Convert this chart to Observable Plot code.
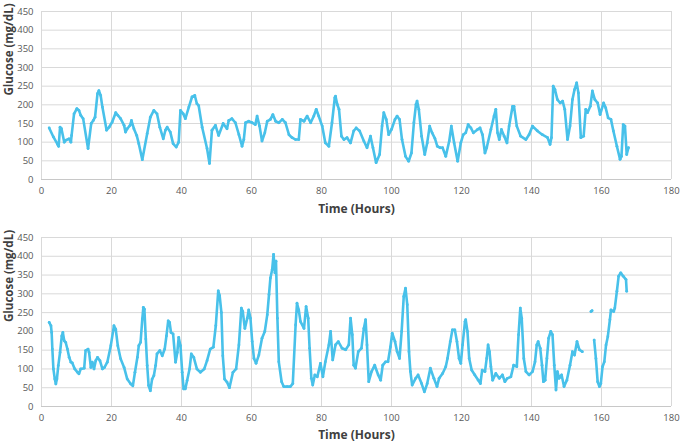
<!DOCTYPE html>
<html>
<head>
<meta charset="utf-8">
<script src="https://cdn.jsdelivr.net/npm/d3@7"></script>
<script src="https://cdn.jsdelivr.net/npm/@observablehq/plot@0.6"></script>
<style>
  html, body { margin: 0; padding: 0; background: #fff; }
  #chart { width: 680px; height: 442px; overflow: hidden; }
  #chart svg { display: block; }
</style>
</head>
<body>
<div id="chart"></div>
<script>
// Axis ticks
const xTicks = [0, 20, 40, 60, 80, 100, 120, 140, 160, 180];
const yTicks = [0, 50, 100, 150, 200, 250, 300, 350, 400, 450];

// Top panel
const topHours = [2.2,3.4,4.6,4.9,5.3,5.7,6.5,6.9,7.9,8.4,8.6,9.3,10.1,10.7,11.2,11.9,13.3,14.2,14.8,15.3,16.0,16.4,16.9,17.4,18.6,19.3,20.2,21.2,21.8,22.6,23.6,24.0,24.5,25.3,25.7,26.4,27.2,27.8,28.8,30.2,31.1,32.1,33.0,33.8,34.8,35.4,35.9,36.8,37.6,38.5,39.2,39.7,40.5,41.1,42.1,43.0,43.8,44.4,44.9,45.9,47.3,48.0,48.7,49.7,50.6,51.9,53.0,53.5,54.4,55.4,56.4,57.3,57.8,58.3,59.2,60.2,61.1,61.6,62.3,63.0,63.8,64.5,65.4,66.1,66.9,67.8,68.8,69.7,70.7,71.6,72.6,73.5,74.0,75.0,75.9,76.9,77.8,78.5,79.2,80.2,81.1,82.1,83.0,83.8,84.0,84.5,85.0,85.7,86.4,87.3,88.3,89.2,89.9,90.9,92.1,93.0,94.0,94.7,95.6,96.6,97.3,97.8,98.5,99.2,100.0,101.0,101.6,102.3,103.0,104.0,104.9,105.7,106.4,107.0,107.3,107.8,108.6,109.5,110.2,110.9,111.6,112.4,113.1,113.9,114.6,115.5,116.5,117.1,117.9,118.9,119.8,120.5,121.2,121.9,122.7,123.4,124.6,125.3,126.0,126.7,127.2,128.4,129.3,129.8,130.3,130.8,131.4,132.2,133.0,133.6,134.6,135.0,135.8,136.9,138.4,139.3,140.3,141.7,143.1,144.6,145.3,145.7,146.2,146.7,147.4,148.2,148.9,149.5,150.3,151.0,151.7,152.3,152.9,153.4,154.1,154.9,155.5,156.0,156.8,157.4,158.1,158.9,159.6,160.6,161.2,161.9,162.7,163.4,164.4,165.3,165.7,166.2,166.7,167.2,167.7];
const topGlucose = [138,114,94,89,140,136,100,105,109,100,118,176,190,185,172,163,83,150,158,167,230,238,225,194,132,140,154,179,172,163,145,127,136,145,158,136,118,96,53,123,167,185,176,140,109,132,140,127,96,87,100,185,176,163,194,221,225,203,198,140,83,43,132,145,118,150,136,158,163,152,120,89,107,152,156,152,147,170,143,103,125,156,161,174,156,152,161,152,120,112,107,107,161,156,170,152,170,188,170,143,98,89,152,219,223,201,188,116,107,112,98,130,138,130,103,85,116,85,45,67,143,179,161,120,134,161,170,161,107,62,49,71,152,201,210,188,116,67,98,143,125,110,89,85,85,62,103,143,98,49,98,120,125,147,138,125,134,138,120,71,85,134,170,188,125,107,134,116,98,143,196,196,143,116,107,120,143,130,120,112,94,112,250,241,214,205,210,188,107,143,214,241,259,232,112,116,188,179,196,237,214,205,174,205,192,165,161,130,89,54,62,147,143,67,85];

// Bottom panel (null marks a gap in the trace)
const bottomHours = [2.2,2.7,2.9,3.1,3.4,3.8,4.1,4.4,4.8,5.3,5.8,6.1,6.5,6.9,7.4,7.9,8.4,8.8,9.5,10.3,10.7,11.2,12.2,12.6,13.3,13.6,14.1,14.5,15.0,15.5,16.0,16.7,17.4,18.0,18.8,19.8,20.7,21.2,21.8,22.6,23.6,24.5,25.5,26.1,26.7,27.4,27.8,28.3,28.8,29.1,29.4,29.8,30.2,30.6,31.1,31.6,32.1,32.6,33.0,33.8,34.5,35.2,35.7,36.2,36.6,37.0,37.6,38.3,38.8,39.2,39.7,40.2,40.6,41.1,41.6,42.3,42.8,43.5,44.4,45.4,46.5,47.3,48.2,49.1,49.8,50.5,50.9,51.4,51.8,52.3,53.0,53.7,54.7,55.6,56.4,57.1,57.5,58.1,58.8,59.2,59.7,60.2,60.7,61.3,62.1,63.0,63.8,64.5,65.0,65.4,65.9,66.3,66.7,67.0,67.4,67.8,68.6,69.2,70.2,71.1,71.8,72.6,73.0,73.5,74.0,75.0,75.6,76.2,76.6,77.1,77.5,78.1,78.8,79.7,80.4,81.1,82.1,82.6,83.2,84.0,84.8,85.9,86.9,87.8,88.3,88.8,89.2,89.7,90.5,91.4,92.1,92.6,93.0,93.5,94.3,95.2,96.2,96.9,97.5,98.3,99.0,99.7,100.2,101.0,101.6,102.3,102.9,103.5,104.0,104.5,105.0,105.4,105.9,106.9,107.6,108.6,109.4,110.2,111.1,112.1,113.0,113.6,114.6,115.5,116.0,116.8,117.4,118.1,118.7,119.3,119.8,120.3,121.0,121.2,121.7,122.2,122.9,123.8,124.8,125.4,125.9,126.7,127.2,127.6,128.0,128.4,128.9,129.8,130.8,131.7,132.4,133.1,134.1,134.9,135.8,136.3,136.8,137.2,137.8,138.4,139.3,140.3,141.0,141.5,141.9,142.5,143.0,143.4,143.9,144.4,144.9,145.5,146.0,146.5,147.0,147.4,147.9,148.6,149.3,150.1,151.0,151.7,152.3,153.0,153.7,154.5,155.5,157.0,157.3,157.6,157.9,158.4,158.9,159.4,159.8,160.3,160.8,161.3,161.8,162.4,162.7,163.5,163.8,164.4,164.9,165.5,166.2,167.0,167.2];
const bottomGlucose = [224,215,197,153,100,73,60,73,109,144,188,197,175,171,153,131,118,116,100,91,87,100,102,149,153,144,104,118,100,122,131,122,100,104,118,162,215,206,162,127,104,73,60,55,91,131,162,171,233,264,259,180,109,56,42,73,82,109,140,149,135,153,188,228,224,197,193,118,144,184,162,91,47,47,69,100,140,131,100,91,100,122,153,158,215,308,295,250,135,73,65,50,91,100,164,262,253,208,235,257,235,173,128,115,137,182,200,244,298,342,364,405,356,387,235,119,66,53,53,53,61,217,275,257,226,208,266,235,155,75,57,84,79,115,79,119,164,200,124,164,173,155,151,164,235,191,110,102,146,155,208,231,164,66,93,110,84,70,110,119,119,159,195,173,146,128,200,293,315,271,146,93,57,75,84,61,39,61,102,75,53,75,88,106,128,173,204,204,173,128,115,164,226,231,200,128,97,84,70,61,97,93,128,164,146,106,70,88,75,84,66,75,79,110,106,191,262,235,128,93,84,93,119,164,173,155,110,66,70,128,182,200,191,110,44,93,75,84,53,70,110,146,137,173,151,146,null,253,255,null,177,128,66,53,61,106,119,164,186,231,257,253,262,307,347,356,347,338,307];

const lineColor = "#48C1EA";
const font = "'Open Sans', 'DejaVu Sans', sans-serif";

function panel(hours, glucose, m) {
  const data = hours.map((t, i) => ({t, g: glucose[i]}));
  return Plot.plot({
    width: 680,
    height: m.height,
    marginLeft: 41,
    marginRight: 9,
    marginTop: m.top,
    marginBottom: m.bottom,
    style: {fontFamily: font, fontSize: "9.5px", color: "#595959", background: "white"},
    x: {domain: [0, 180], label: null},
    y: {domain: [0, 450], label: null},
    marks: [
      Plot.gridX(xTicks, {stroke: "#d9d9d9", strokeOpacity: 1}),
      Plot.gridY(yTicks, {stroke: "#d9d9d9", strokeOpacity: 1}),
      Plot.ruleY([0], {stroke: "#c8c8c8"}),
      Plot.axisX(xTicks, {tickSize: 0, tickPadding: 8, label: null, fill: "#595959"}),
      Plot.axisY(yTicks, {tickSize: 0, tickPadding: 8, label: null, fill: "#595959"}),
      Plot.line(data, {x: "t", y: "g", stroke: lineColor, strokeWidth: 2.6, strokeLinejoin: "round"}),
      Plot.dot(data, {x: "t", y: "g", r: 1.4, fill: lineColor, stroke: "none"}),
      Plot.text(["Time (Hours)"], {text: d => d, frameAnchor: "bottom", dy: m.titleDy, fontWeight: "bold", fontSize: 12, fill: "#404040"}),
      Plot.text(["Glucose (mg/dL)"], {text: d => d, frameAnchor: "left", dx: -32, rotate: -90, fontWeight: "bold", fontSize: 11.5, fill: "#404040"})
    ]
  });
}

const el = document.getElementById("chart");
el.appendChild(panel(topHours, topGlucose, {height: 221, top: 11, bottom: 42, titleDy: 33}));
el.appendChild(panel(bottomHours, bottomGlucose, {height: 221, top: 16, bottom: 36, titleDy: 32}));
</script>
</body>
</html>
